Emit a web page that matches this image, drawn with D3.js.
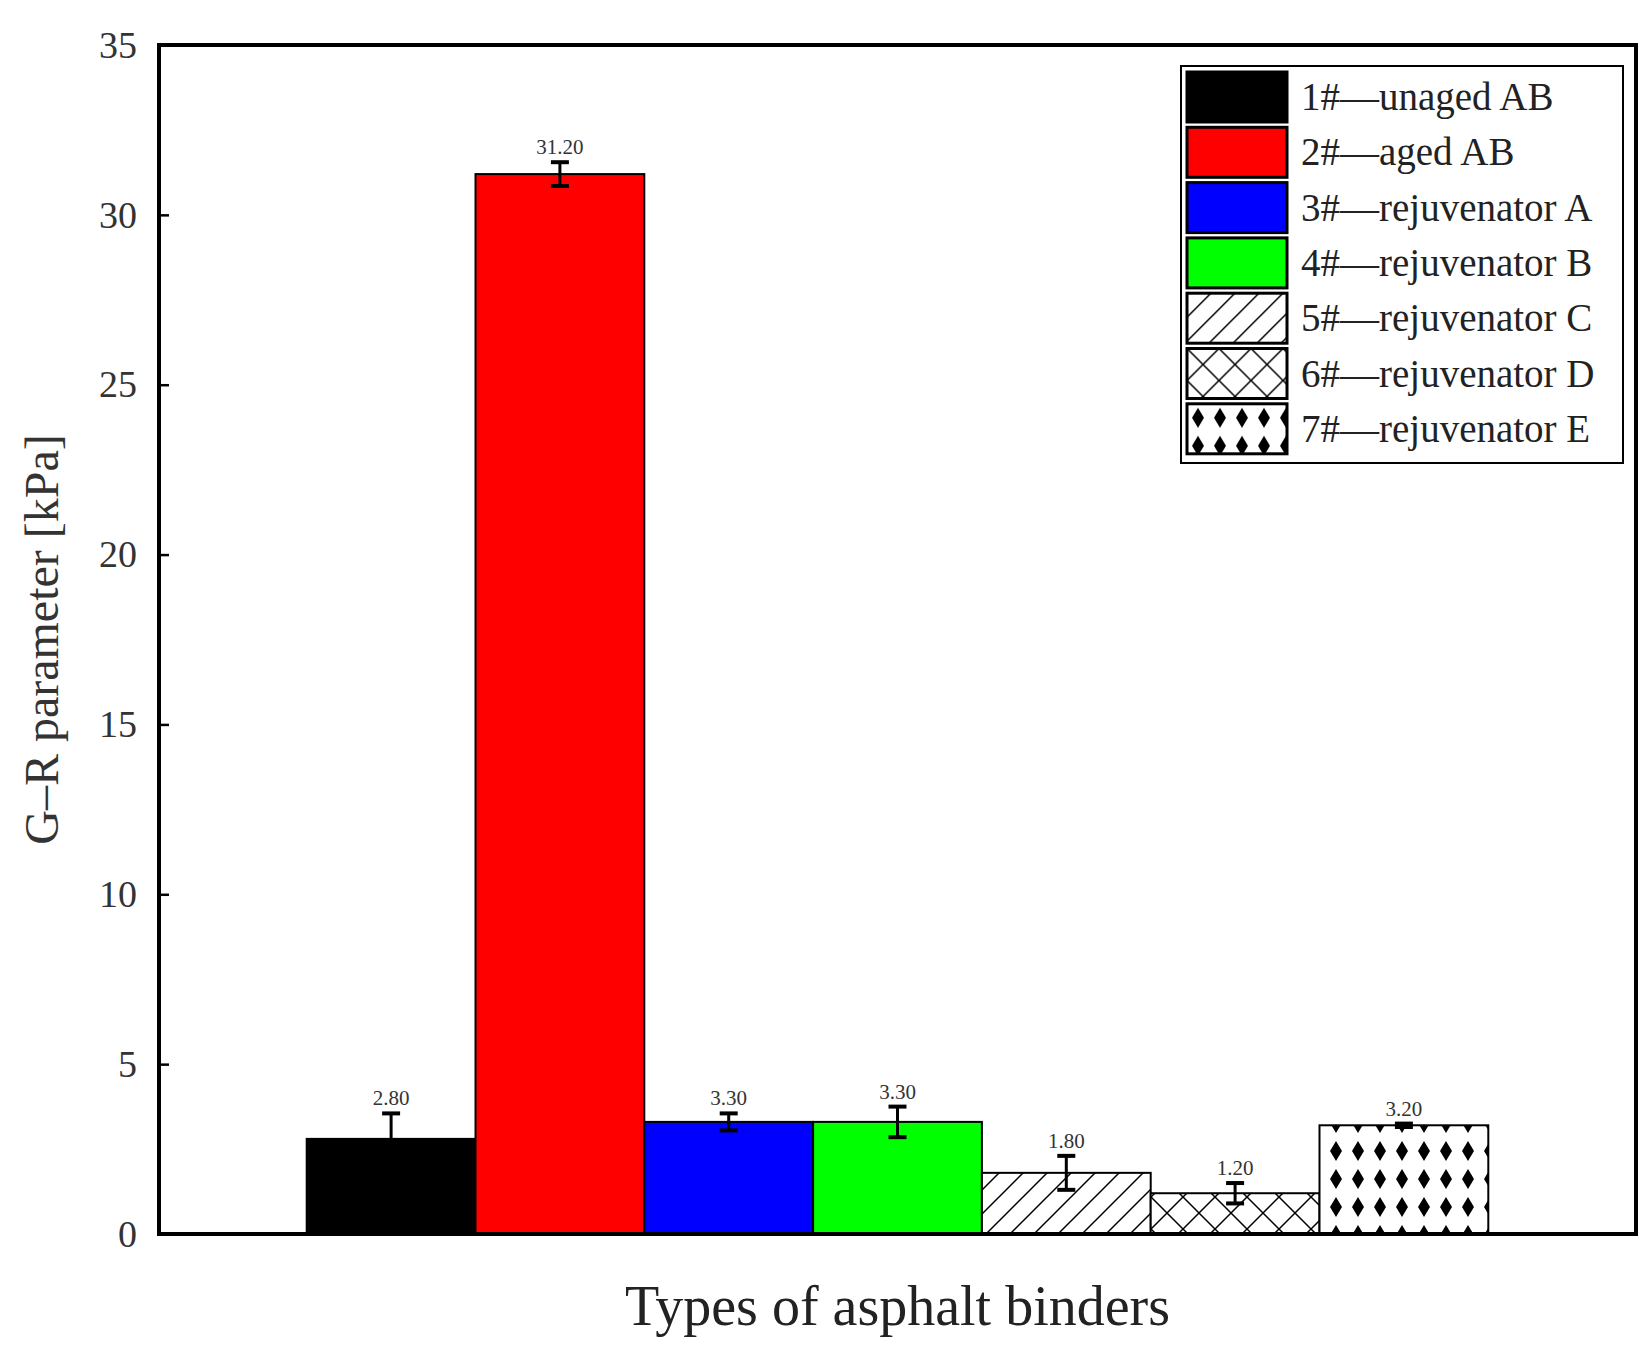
<!DOCTYPE html>
<html>
<head>
<meta charset="utf-8">
<script src="https://cdn.jsdelivr.net/npm/d3@7"></script>
<style>
  body { margin: 0; background: #fff; }
  text { font-family: "Liberation Serif", "DejaVu Serif", serif; }
</style>
</head>
<body>
<div id="chart"></div>
<script>
const labels = ["1#\u2014unaged AB", "2#\u2014aged AB", "3#\u2014rejuvenator A", "4#\u2014rejuvenator B",
  "5#\u2014rejuvenator C", "6#\u2014rejuvenator D", "7#\u2014rejuvenator E"];
const values = [2.8, 31.2, 3.3, 3.3, 1.8, 1.2, 3.2];
const errors = [0.75, 0.35, 0.25, 0.45, 0.5, 0.3, 0.05];
const fills = ["#000", "#ff0000", "#0000ff", "#00ff00", "url(#hatch)", "url(#cross)", "url(#dots)"];
const yTicks = [0, 5, 10, 15, 20, 25, 30, 35];

const W = 1649, H = 1352;
const margin = { top: 45, right: 13, bottom: 118, left: 159 };
const width = W - margin.left - margin.right;
const height = H - margin.top - margin.bottom;

const svg = d3.select("#chart").append("svg").attr("width", W).attr("height", H);

// patterns
const defs = svg.append("defs");
const hatch = defs.append("pattern").attr("id", "hatch").attr("patternUnits", "userSpaceOnUse")
  .attr("width", 24).attr("height", 24);
hatch.append("rect").attr("width", 24).attr("height", 24).attr("fill", "#fff");
hatch.append("path").attr("d", "M-6,30 L30,-6 M-6,6 L6,-6 M18,30 L30,18").attr("stroke", "#000").attr("stroke-width", 1.5);

const cross = defs.append("pattern").attr("id", "cross").attr("patternUnits", "userSpaceOnUse")
  .attr("width", 32).attr("height", 32);
cross.append("rect").attr("width", 32).attr("height", 32).attr("fill", "#fff");
cross.append("path").attr("d", "M0,0 L32,32 M32,0 L0,32").attr("stroke", "#000").attr("stroke-width", 1.5);

const dots = defs.append("pattern").attr("id", "dots").attr("patternUnits", "userSpaceOnUse")
  .attr("width", 22).attr("height", 28);
dots.append("rect").attr("width", 22).attr("height", 28).attr("fill", "#fff");
dots.append("path").attr("d", "M11,4 L17,14 L11,24 L5,14 Z").attr("fill", "#000");

const x = d3.scaleBand().domain(labels).range([0, width]).paddingInner(0).paddingOuter(0.875);
const y = d3.scaleLinear().domain([0, 35]).range([height, 0]);

const chart = svg.append("g").attr("transform", `translate(${margin.left},${margin.top})`);

chart.selectAll(".bar").data(labels).enter().append("rect")
  .attr("x", d => x(d)).attr("width", x.bandwidth())
  .attr("y", (d, i) => y(values[i])).attr("height", (d, i) => height - y(values[i]))
  .attr("fill", (d, i) => fills[i]).attr("stroke", "#000").attr("stroke-width", 2);

// error bars
const eb = chart.selectAll(".err").data(labels).enter().append("g")
  .attr("transform", d => `translate(${x(d) + x.bandwidth() / 2},0)`);
eb.append("line").attr("y1", (d, i) => y(values[i] + errors[i])).attr("y2", (d, i) => y(values[i] - errors[i]))
  .attr("stroke", "#000").attr("stroke-width", 3);
eb.append("line").attr("x1", -9).attr("x2", 9)
  .attr("y1", (d, i) => y(values[i] + errors[i])).attr("y2", (d, i) => y(values[i] + errors[i]))
  .attr("stroke", "#000").attr("stroke-width", 4);
eb.append("line").attr("x1", -9).attr("x2", 9)
  .attr("y1", (d, i) => y(values[i] - errors[i])).attr("y2", (d, i) => y(values[i] - errors[i]))
  .attr("stroke", "#000").attr("stroke-width", 4);
eb.append("text").attr("text-anchor", "middle").attr("font-size", 21).attr("fill", "#333")
  .attr("y", (d, i) => y(values[i] + errors[i]) - 8)
  .text((d, i) => values[i].toFixed(2));

// axes
const yAxis = chart.append("g").call(d3.axisLeft(y).tickValues(yTicks).tickSize(-10).tickPadding(22));
yAxis.select(".domain").remove();
yAxis.selectAll("text").attr("font-size", 38).attr("font-family", "Liberation Serif").attr("fill", "#333");
yAxis.selectAll("line").attr("stroke-width", 2.5);

chart.append("rect").attr("width", width).attr("height", height)
  .attr("fill", "none").attr("stroke", "#000").attr("stroke-width", 4);

svg.append("text").attr("text-anchor", "middle").attr("font-size", 48).attr("fill", "#333")
  .attr("transform", "rotate(-90)").attr("x", -(margin.top + height / 2)).attr("y", 58)
  .text("G\u2013R parameter [kPa]");
svg.append("text").attr("text-anchor", "middle").attr("font-size", 56).attr("fill", "#222")
  .attr("x", margin.left + width / 2).attr("y", 1325)
  .text("Types of asphalt binders");

// legend
const lg = svg.append("g").attr("transform", "translate(1181,66)");
lg.append("rect").attr("width", 442).attr("height", 397).attr("fill", "#fff")
  .attr("stroke", "#000").attr("stroke-width", 2);
const rows = lg.selectAll(".lr").data(labels).enter().append("g")
  .attr("transform", (d, i) => `translate(6,${6 + i * 55.3})`);
rows.append("rect").attr("width", 100).attr("height", 50)
  .attr("fill", (d, i) => fills[i]).attr("stroke", "#000").attr("stroke-width", 3);
rows.append("text").attr("x", 114).attr("y", 38).attr("font-size", 39).attr("fill", "#222").text(d => d);
</script>
</body>
</html>
